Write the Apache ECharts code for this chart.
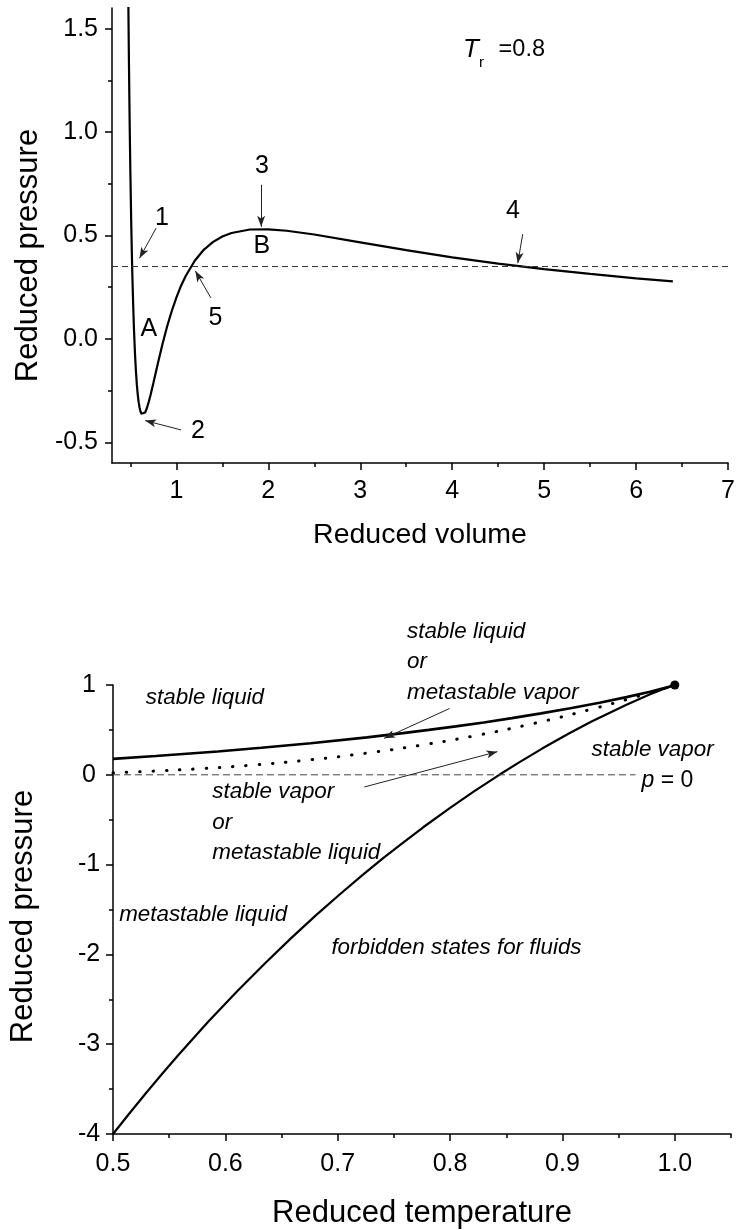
<!DOCTYPE html>
<html>
<head>
<meta charset="utf-8">
<script src="https://cdn.jsdelivr.net/npm/echarts@6/dist/echarts.min.js"></script>
<style>
html,body{margin:0;padding:0;background:#fff;}
#chart{width:738px;height:1230px;}
</style>
</head>
<body>
<div id="chart"></div>
<script>
// ---------- Top panel: isotherm Tr = 0.8 ----------
const volTop = [0.47,0.475,0.48,0.485,0.49,0.495,0.50,0.51,0.52,0.53,0.54,0.55,0.56,0.57,0.58,0.59,0.60,0.61,0.62,0.63,0.64,0.66,0.68,0.70,0.72,0.75,0.80,0.85,0.90,0.95,1.00,1.05,1.10,1.20,1.30,1.40,1.50,1.60,1.80,2.00,2.20,2.50,3.00,3.50,4.00,4.50,5.00,5.50,6.00,6.40];
const presTop = [2.03,1.76,1.52,1.31,1.12,0.95,0.80,0.54,0.33,0.17,0.035,-0.071,-0.154,-0.220,-0.269,-0.306,-0.333,-0.351,-0.362,-0.368,-0.368,-0.356,-0.334,-0.304,-0.270,-0.213,-0.116,-0.023,0.061,0.135,0.200,0.256,0.303,0.378,0.432,0.469,0.495,0.512,0.529,0.530,0.523,0.505,0.467,0.429,0.394,0.364,0.337,0.314,0.293,0.278];
const satLineTop = [[0.3,0.35],[7.09,0.35]];
const topXTicks = [1,2,3,4,5,6,7];
const topXMinor = [0.5,1.5,2.5,3.5,4.5,5.5,6.5];
const topYTicks = [-0.5,0,0.5,1.0,1.5];
const topYMinor = [-0.25,0.25,0.75,1.25];
const topLabels = [
  {text:'1', x:0.848, y:0.58},
  {text:'2', x:1.239, y:-0.45},
  {text:'3', x:1.936, y:0.834},
  {text:'4', x:4.666, y:0.616},
  {text:'5', x:1.43, y:0.10},
  {text:'A', x:0.707, y:0.044},
  {text:'B', x:1.936, y:0.447}
];
const topArrows = [
  [0.78,0.536,0.599,0.39],
  [1.051,-0.44,0.66,-0.395],
  [1.922,0.745,1.922,0.542],
  [4.767,0.507,4.713,0.366],
  [1.376,0.198,1.206,0.329]
];

// ---------- Bottom panel: phase diagram ----------
const tempLiqSpin = [0.5000,0.5149,0.5294,0.5436,0.5576,0.5845,0.6103,0.6349,0.6583,0.6805,0.7017,0.7217,0.7407,0.7588,0.7758,0.7997,0.8216,0.8438,0.8600,0.8819,0.9057,0.9259,0.9570,0.9780,0.9911,0.9980,1.0000];
const presLiqSpin = [-4.000,-3.766,-3.543,-3.331,-3.129,-2.754,-2.413,-2.104,-1.822,-1.566,-1.333,-1.120,-0.926,-0.749,-0.587,-0.371,-0.182,0.000,0.127,0.292,0.459,0.593,0.781,0.896,0.960,0.991,1.000];
const tempVapSpin = [0.500,0.538,0.593,0.632,0.676,0.726,0.758,0.781,0.805,0.830,0.855,0.881,0.907,0.933,0.957,0.978,0.994,1.000];
const presVapSpin = [0.177,0.209,0.259,0.301,0.352,0.417,0.464,0.500,0.539,0.583,0.631,0.684,0.741,0.802,0.865,0.926,0.977,1.000];
const tempSat = [0.50,0.55,0.60,0.65,0.70,0.75,0.80,0.85,0.90,0.95,0.98,1.00];
const presSat = [0.022,0.049,0.085,0.135,0.200,0.283,0.383,0.504,0.647,0.812,0.922,1.00];
const zeroLine = [[0.5,0],[0.965,0]];
const criticalPoint = [[1.0,1.0]];
const botXTicks = [0.5,0.6,0.7,0.8,0.9,1.0];
const botXMinor = [0.55,0.65,0.75,0.85,0.95,1.05];
const botYTicks = [-4,-3,-2,-1,0,1];
const botYMinor = [-3.5,-2.5,-1.5,-0.5,0.5];
const botLabels = [
  {text:'stable liquid', x:0.5296, y:0.852},
  {text:'stable liquid\nor\nmetastable vapor', x:0.7621, y:1.248},
  {text:'stable vapor\nor\nmetastable liquid', x:0.5888, y:-0.536},
  {text:'stable vapor', x:0.9264, y:0.277},
  {text:'metastable liquid', x:0.5059, y:-1.56},
  {text:'forbidden states for fluids', x:0.6948, y:-1.936}
];
const botArrows = [
  [0.7995,0.738,0.7413,0.406],
  [0.7236,-0.136,0.8421,0.258]
];

const FONT = '"Liberation Sans", Arial, Helvetica, sans-serif';
const AX = {color:'#000', width:1.5};

function zip(xs, ys){ return xs.map((x,i)=>[x, ys[i]]); }

function majorAxis(grid, min, max, ticks, extra){
  return Object.assign({
    gridIndex:grid, type:'value', min:min, max:max,
    axisLine:{show:true, onZero:false, lineStyle:AX},
    axisTick:{show:true, inside:false, length:7, customValues:ticks, lineStyle:AX},
    splitLine:{show:false}, minorTick:{show:false}
  }, extra);
}
function minorAxis(grid, min, max, ticks, pos){
  return {
    gridIndex:grid, type:'value', min:min, max:max, position:pos,
    axisLine:{show:false, onZero:false},
    axisTick:{show:true, inside:false, length:4, customValues:ticks, lineStyle:AX},
    axisLabel:{show:false}, splitLine:{show:false}
  };
}
function arrowData(list){
  return list.map(a => [{coord:[a[0],a[1]]},{coord:[a[2],a[3]]}]);
}
function labelSeries(xi, yi, list, style, arrows){
  return {
    type:'scatter', xAxisIndex:xi, yAxisIndex:yi, symbolSize:1, clip:false, silent:true,
    itemStyle:{color:'rgba(0,0,0,0)', opacity:1},
    data: list.map(l => ({value:[l.x,l.y], name:l.text})),
    label:Object.assign({show:true, position:[0,0], formatter:p=>p.name, color:'#000', fontFamily:FONT}, style),
    markLine:{
      silent:true, symbol:['none','arrow'], symbolSize:[6,11],
      lineStyle:{color:'#222', width:1, type:'solid', opacity:1},
      itemStyle:{color:'#222', opacity:1},
      label:{show:false}, emphasis:{disabled:true},
      data: arrowData(arrows)
    }
  };
}

const option = {
  animation:false,
  backgroundColor:'#fff',
  grid:[
    {left:112, right:8, top:8, height:455},
    {left:112, right:7, top:685, height:452}
  ],
  xAxis:[
    majorAxis(0, 0.3, 7, topXTicks, {position:'bottom',
      axisLabel:{show:true, customValues:topXTicks, formatter:v=>String(v), fontSize:25, color:'#000', fontFamily:FONT, margin:16},
      name:'Reduced volume', nameLocation:'middle', nameGap:58,
      nameTextStyle:{fontSize:28.5, color:'#000', fontFamily:FONT}}),
    minorAxis(0, 0.3, 7, topXMinor, 'bottom'),
    majorAxis(1, 0.5, 1.05, botXTicks, {position:'bottom',
      axisLabel:{show:true, customValues:botXTicks, formatter:v=>v.toFixed(1), fontSize:25, color:'#000', fontFamily:FONT, margin:18},
      name:'Reduced temperature', nameLocation:'middle', nameGap:64,
      nameTextStyle:{fontSize:31, color:'#000', fontFamily:FONT}}),
    minorAxis(1, 0.5, 1.05, botXMinor, 'bottom')
  ],
  yAxis:[
    majorAxis(0, -0.6, 1.6, topYTicks, {position:'left',
      axisLabel:{show:true, customValues:topYTicks, formatter:v=>v.toFixed(1), fontSize:25, color:'#000', fontFamily:FONT, margin:14},
      name:'Reduced pressure', nameLocation:'middle', nameGap:68, nameRotate:90,
      nameTextStyle:{fontSize:31, color:'#000', fontFamily:FONT, padding:[0,40,0,0]}}),
    minorAxis(0, -0.6, 1.6, topYMinor, 'left'),
    majorAxis(1, -4, 1, botYTicks, {position:'left',
      axisLabel:{show:true, customValues:botYTicks, formatter:v=>String(v), fontSize:25, color:'#000', fontFamily:FONT, margin:24, align:'center'},
      name:'Reduced pressure', nameLocation:'middle', nameGap:74, nameRotate:90,
      nameTextStyle:{fontSize:31, color:'#000', fontFamily:FONT, padding:[0,14,0,0]}}),
    minorAxis(1, -4, 1, botYMinor, 'left')
  ],
  series:[
    {type:'line', xAxisIndex:0, yAxisIndex:0, data:zip(volTop, presTop), showSymbol:false, clip:true,
      lineStyle:{color:'#000', width:2.2}, silent:true},
    {type:'line', xAxisIndex:0, yAxisIndex:0, data:satLineTop, showSymbol:false, clip:false,
      lineStyle:{color:'#333', width:1, type:[6,4]}, silent:true},
    labelSeries(0, 0, topLabels, {fontSize:25, align:'center', verticalAlign:'middle'}, topArrows),
    {type:'scatter', xAxisIndex:0, yAxisIndex:0, symbolSize:1, clip:false, silent:true,
      itemStyle:{color:'rgba(0,0,0,0)', opacity:1},
      data:[
        {value:[4.124,1.398], name:'T', label:{fontSize:26, fontStyle:'italic'}},
        {value:[4.297,1.333], name:'r', label:{fontSize:15}},
        {value:[4.51,1.398], name:'=0.8', label:{fontSize:23.5}}
      ],
      label:{show:true, position:[0,0], align:'left', verticalAlign:'middle', formatter:p=>p.name, color:'#000', fontFamily:FONT}
    },

    {type:'line', xAxisIndex:2, yAxisIndex:2, data:zip(tempLiqSpin, presLiqSpin), showSymbol:false,
      lineStyle:{color:'#000', width:2.2}, silent:true},
    {type:'line', xAxisIndex:2, yAxisIndex:2, data:zip(tempVapSpin, presVapSpin), showSymbol:false,
      lineStyle:{color:'#000', width:2.6}, silent:true},
    {type:'line', xAxisIndex:2, yAxisIndex:2, data:zip(tempSat, presSat), showSymbol:false, smooth:0.2,
      lineStyle:{color:'#000', width:3, type:[0.5,12.8], cap:'round'}, silent:true},
    {type:'line', xAxisIndex:2, yAxisIndex:2, data:zeroLine, showSymbol:false,
      lineStyle:{color:'#444', width:1, type:[7,4]}, silent:true},
    {type:'scatter', xAxisIndex:2, yAxisIndex:2, data:criticalPoint, symbol:'circle', symbolSize:9, clip:false,
      itemStyle:{color:'#000', opacity:1}, silent:true},
    labelSeries(2, 2, botLabels, {fontSize:22.4, fontStyle:'italic', align:'left', verticalAlign:'middle', lineHeight:30.5}, botArrows),
    {type:'scatter', xAxisIndex:2, yAxisIndex:2, symbolSize:1, clip:false, silent:true,
      itemStyle:{color:'rgba(0,0,0,0)', opacity:1},
      data:[{value:[0.9709,-0.074], name:'p = 0'}],
      label:{show:true, position:[0,0], align:'left', verticalAlign:'middle', color:'#000', fontFamily:FONT, fontSize:23,
        formatter:'{i|p} = 0', rich:{i:{fontStyle:'italic', fontSize:23, fontFamily:FONT, color:'#000'}}}
    }
  ]
};

const chart = echarts.init(document.getElementById('chart'), null, {renderer:'canvas'});
chart.setOption(option);
</script>
</body>
</html>
